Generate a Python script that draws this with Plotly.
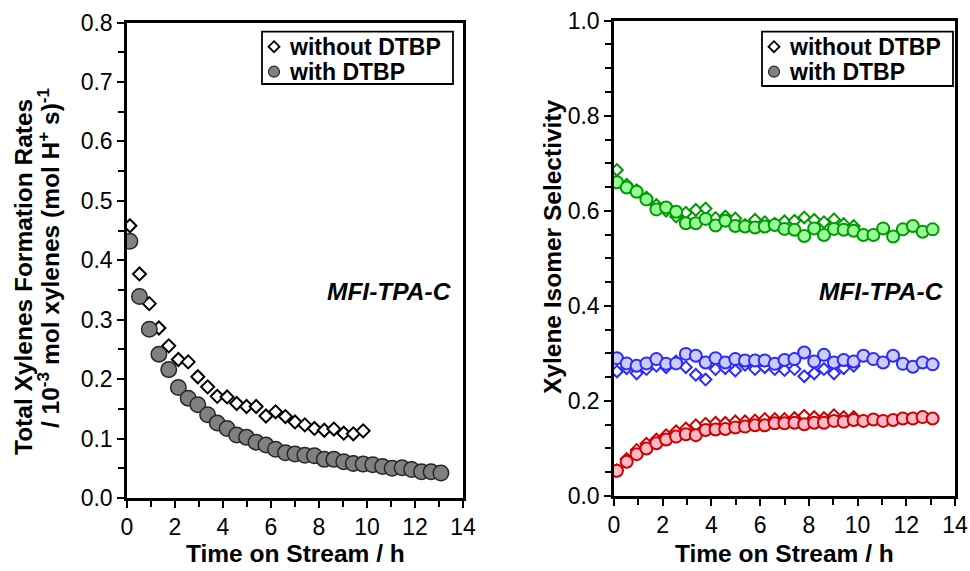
import plotly.graph_objects as go

# ---------------- data ----------------
# time on stream (h) for each sample
time_h = [0.12, 0.52, 0.93, 1.33, 1.74, 2.14, 2.55, 2.95, 3.36, 3.76, 4.17,
          4.57, 4.98, 5.38, 5.79, 6.19, 6.60, 7.00, 7.41, 7.81, 8.22, 8.62,
          9.03, 9.43, 9.84, 10.24, 10.65, 11.05, 11.46, 11.86, 12.27, 12.67,
          13.08]
time_noDTBP = time_h[:25]

# total xylenes formation rate, 10^-3 mol xylenes (mol H+ s)^-1
rate_noDTBP = [0.458, 0.377, 0.327, 0.286, 0.256, 0.233, 0.229, 0.204, 0.187,
               0.171, 0.170, 0.159, 0.154, 0.154, 0.138, 0.145, 0.137, 0.128,
               0.123, 0.117, 0.114, 0.116, 0.109, 0.108, 0.113]
rate_DTBP = [0.432, 0.339, 0.284, 0.242, 0.216, 0.186, 0.168, 0.157, 0.140,
             0.126, 0.117, 0.106, 0.102, 0.094, 0.089, 0.082, 0.076, 0.074,
             0.072, 0.071, 0.065, 0.065, 0.061, 0.058, 0.057, 0.056, 0.053,
             0.050, 0.051, 0.048, 0.044, 0.044, 0.042]

# xylene isomer selectivities (green / blue / red series)
green_noDTBP = [0.686, 0.655, 0.643, 0.628, 0.612, 0.600, 0.588, 0.596, 0.602,
                0.605, 0.585, 0.588, 0.584, 0.570, 0.581, 0.576, 0.573, 0.578,
                0.579, 0.586, 0.581, 0.576, 0.582, 0.572, 0.568]
green_DTBP = [0.660, 0.649, 0.640, 0.624, 0.603, 0.607, 0.598, 0.574, 0.574,
              0.583, 0.569, 0.579, 0.568, 0.567, 0.565, 0.567, 0.570, 0.562,
              0.560, 0.547, 0.563, 0.549, 0.562, 0.560, 0.558, 0.549, 0.549,
              0.563, 0.546, 0.561, 0.568, 0.556, 0.561]
blue_noDTBP = [0.262, 0.269, 0.258, 0.267, 0.274, 0.271, 0.283, 0.271, 0.255,
               0.245, 0.267, 0.269, 0.264, 0.276, 0.267, 0.271, 0.267, 0.265,
               0.267, 0.252, 0.258, 0.267, 0.258, 0.269, 0.274]
blue_DTBP = [0.290, 0.279, 0.274, 0.279, 0.288, 0.278, 0.279, 0.299, 0.295,
             0.281, 0.290, 0.281, 0.288, 0.285, 0.285, 0.285, 0.278, 0.286,
             0.288, 0.302, 0.283, 0.297, 0.281, 0.286, 0.283, 0.295, 0.288,
             0.281, 0.295, 0.278, 0.272, 0.281, 0.277]
red_noDTBP = [0.054, 0.078, 0.097, 0.110, 0.119, 0.128, 0.136, 0.142, 0.149,
              0.152, 0.154, 0.154, 0.157, 0.157, 0.159, 0.162, 0.162, 0.162,
              0.164, 0.169, 0.166, 0.164, 0.170, 0.166, 0.166]
red_DTBP = [0.053, 0.072, 0.088, 0.100, 0.111, 0.119, 0.125, 0.130, 0.128,
            0.139, 0.140, 0.141, 0.144, 0.146, 0.149, 0.149, 0.153, 0.153,
            0.154, 0.151, 0.154, 0.154, 0.158, 0.156, 0.160, 0.158, 0.161,
            0.158, 0.160, 0.163, 0.163, 0.166, 0.163]

legend_labels = ["without DTBP", "with DTBP"]
sample_label = "MFI-TPA-C"

# ---------------- styling ----------------
FONT = "Liberation Sans, Arial, sans-serif"
W, H = 970, 571


def px_x(p):
    return p / W


def px_y(p):
    return (H - p) / H


# panel frames in page pixels: (left, right, top, bottom, ymax)
panels = [(127, 463, 22.5, 498, 0.8), (614, 955, 20.7, 496, 1.0)]

fig = go.Figure()

# left panel: formation rates
fig.add_trace(go.Scatter(
    x=time_noDTBP, y=rate_noDTBP, mode="markers", xaxis="x", yaxis="y",
    marker=dict(symbol="diamond", size=10, color="white",
                line=dict(color="black", width=2)), showlegend=False))
fig.add_trace(go.Scatter(
    x=time_h, y=rate_DTBP, mode="markers", xaxis="x", yaxis="y",
    marker=dict(symbol="circle", size=15.5, color="#808080",
                line=dict(color="#262626", width=1.5)), showlegend=False))

# right panel: isomer selectivities
series = [
    (green_noDTBP, green_DTBP, "#009a00", "#99ff99"),
    (blue_noDTBP, blue_DTBP, "#2b2bff", "#ccccff"),
    (red_noDTBP, red_DTBP, "#cc0000", "#ffb9c8"),
]
for no_vals, with_vals, edge, fill in series:
    fig.add_trace(go.Scatter(
        x=time_noDTBP, y=no_vals, mode="markers", xaxis="x2", yaxis="y2",
        marker=dict(symbol="diamond", size=9, color="white",
                    line=dict(color=edge, width=2)), showlegend=False))
for no_vals, with_vals, edge, fill in series:
    fig.add_trace(go.Scatter(
        x=time_h, y=with_vals, mode="markers", xaxis="x2", yaxis="y2",
        marker=dict(symbol="circle", size=12, color=fill,
                    line=dict(color=edge, width=2)), showlegend=False))

axis_common = dict(
    showline=True, linecolor="black", linewidth=2.5, mirror=True,
    ticks="outside", ticklen=7, tickwidth=2, tickcolor="black",
    showgrid=False, zeroline=False, automargin=False,
    tickfont=dict(family=FONT, size=23, color="black"),
)
minor_x = dict(dtick=1, ticks="outside", ticklen=6, tickwidth=2,
               tickcolor="black")
minor_y = dict(dtick=0.05, ticks="outside", ticklen=6, tickwidth=2,
               tickcolor="black")

(l0, r0, t0, b0, ym0), (l1, r1, t1, b1, ym1) = panels
layout_axes = dict(
    xaxis=dict(axis_common, domain=[px_x(l0), px_x(r0)], range=[0, 14],
               dtick=2, tick0=0, anchor="y", minor=minor_x),
    yaxis=dict(axis_common, domain=[px_y(b0), px_y(t0)], range=[0, ym0],
               dtick=0.1, tickformat=".1f", anchor="x", minor=minor_y),
    xaxis2=dict(axis_common, domain=[px_x(l1), px_x(r1)], range=[0, 14],
                dtick=2, tick0=0, anchor="y2", minor=minor_x),
    yaxis2=dict(axis_common, domain=[px_y(b1), px_y(t1)], range=[0, ym1],
                dtick=0.2, tickformat=".1f", anchor="x2", minor=minor_y),
)

# legend frames and key glyphs
leg_boxes = [(262, 453, 31.7, 84), (762, 953, 31.7, 86)]
shapes = []
annotations = []
for k, (bx0, bx1, by0, by1) in enumerate(leg_boxes):
    pl, pr, pt, pb, ymax = panels[k]
    xref, yref = ("x", "y") if k == 0 else ("x2", "y2")

    def dx(p):
        return (p - pl) / (pr - pl) * 14

    def dy(p):
        return (pb - p) / (pb - pt) * ymax

    # frame on the panel's own axes
    shapes.append(dict(type="rect", xref=xref, yref=yref,
                       x0=dx(bx0), x1=dx(bx1), y0=dy(by1), y1=dy(by0),
                       line=dict(color="black", width=1.8),
                       fillcolor="rgba(255,255,255,0)", layer="above"))
    kx, ky1, ky2 = bx0 + 12, by0 + 15, by0 + 40
    r = 5.5
    shapes.append(dict(
        type="path", xref="paper", yref="paper",
        path=(f"M {px_x(kx)},{px_y(ky1 - r)} L {px_x(kx + r)},{px_y(ky1)} "
              f"L {px_x(kx)},{px_y(ky1 + r)} L {px_x(kx - r)},{px_y(ky1)} Z"),
        line=dict(color="black", width=1.8), fillcolor="white"))
    shapes.append(dict(
        type="circle", xref="paper", yref="paper",
        x0=px_x(kx - r), x1=px_x(kx + r), y0=px_y(ky2 + r), y1=px_y(ky2 - r),
        line=dict(color="#262626", width=1.2), fillcolor="#808080"))
    for i, lab in enumerate(legend_labels):
        annotations.append(dict(
            xref="paper", yref="paper", x=px_x(bx0 + 25),
            y=px_y(by0 + 15 + 25 * i), text=f"<b>{lab}</b>",
            xanchor="left", yanchor="middle", showarrow=False,
            font=dict(family=FONT, size=23, color="black")))

# sample label in each panel
for xr in (r0, r1):
    annotations.append(dict(
        xref="paper", yref="paper", x=px_x(xr - 10), y=px_y(292),
        text=f"<b><i>{sample_label}</i></b>", xanchor="right",
        yanchor="middle", showarrow=False,
        font=dict(family=FONT, size=24.5, color="black")))

# axis titles
for xc in ((l0 + r0) / 2, (l1 + r1) / 2):
    annotations.append(dict(
        xref="paper", yref="paper", x=px_x(xc), y=px_y(553),
        text="<b>Time on Stream / h</b>", xanchor="center", yanchor="middle",
        showarrow=False, font=dict(family=FONT, size=24.5, color="black")))

annotations.append(dict(
    xref="paper", yref="paper", x=px_x(23), y=px_y(277),
    text="<b>Total Xylenes Formation Rates</b>", textangle=-90,
    xanchor="center", yanchor="middle", showarrow=False,
    font=dict(family=FONT, size=24.5, color="black")))
annotations.append(dict(
    xref="paper", yref="paper", x=px_x(48), y=px_y(258),
    text="<b>/ 10<sup>-3</sup> mol xylenes (mol H<sup>+</sup> s)<sup>-1</sup></b>",
    textangle=-90, xanchor="center", yanchor="middle", showarrow=False,
    font=dict(family=FONT, size=24.5, color="black")))
annotations.append(dict(
    xref="paper", yref="paper", x=px_x(553), y=px_y(247),
    text="<b>Xylene Isomer Selectivity</b>", textangle=-90,
    xanchor="center", yanchor="middle", showarrow=False,
    font=dict(family=FONT, size=24.5, color="black")))

fig.update_layout(
    width=W, height=H,
    margin=dict(l=0, r=0, t=0, b=0),
    paper_bgcolor="white", plot_bgcolor="white",
    showlegend=False,
    shapes=shapes, annotations=annotations,
    **layout_axes,
)

fig.write_html("out.html")
